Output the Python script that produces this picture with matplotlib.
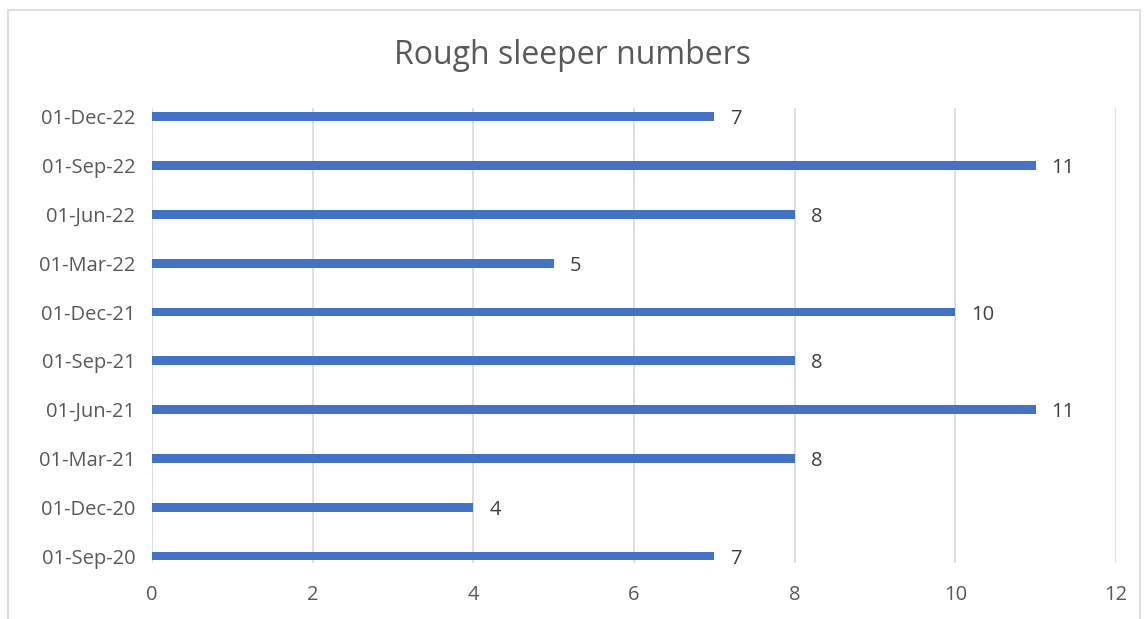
import matplotlib
matplotlib.use("Agg")
import matplotlib.pyplot as plt
from matplotlib.patches import Rectangle

# quarterly counts, bottom to top
dates = ["01-Sep-20", "01-Dec-20", "01-Mar-21", "01-Jun-21", "01-Sep-21",
         "01-Dec-21", "01-Mar-22", "01-Jun-22", "01-Sep-22", "01-Dec-22"]
counts = [7, 4, 8, 11, 8, 10, 5, 8, 11, 7]

plt.rcParams['font.family'] = ['Open Sans', 'DejaVu Sans']
txt = '#595959'

fig = plt.figure(figsize=(11.44, 6.19), dpi=100)
ax = fig.add_axes([152/1144, 1 - 563/619, (1116 - 152)/1144, (563 - 108)/619])

pos = list(range(len(dates)))
ax.barh(pos, counts, height=0.18, color='#4472C4', zorder=3)
for y, v in zip(pos, counts):
    ax.annotate(str(v), (v, y), xytext=(11.5, 0), textcoords='offset points',
                va='center_baseline', ha='left', fontsize=14.5, color='#404040')

ax.set_xlim(0, 12)
ax.set_ylim(-0.143, 9.18)
ax.set_xticks(range(0, 13, 2))
ax.set_yticks(pos)
ax.set_yticklabels(dates)
ax.tick_params(length=0, labelsize=14.5, colors=txt, pad=12)
ax.tick_params(axis='x', pad=16)
ax.grid(axis='x', color='#d9d9d9', linewidth=1.2, zorder=0)
for s in ax.spines.values():
    s.set_visible(False)

fig.text(0.5, 1 - 55/619, "Rough sleeper numbers", ha='center', va='center',
         fontsize=23, color=txt)

# chart outline
fig.patches.append(Rectangle((8/1144, -0.05), (1140 - 8)/1144, 1.05 - 10/619,
                             transform=fig.transFigure, fill=False,
                             edgecolor='#d9d9d9', linewidth=1.2))

fig.savefig("out.png", dpi=100)
